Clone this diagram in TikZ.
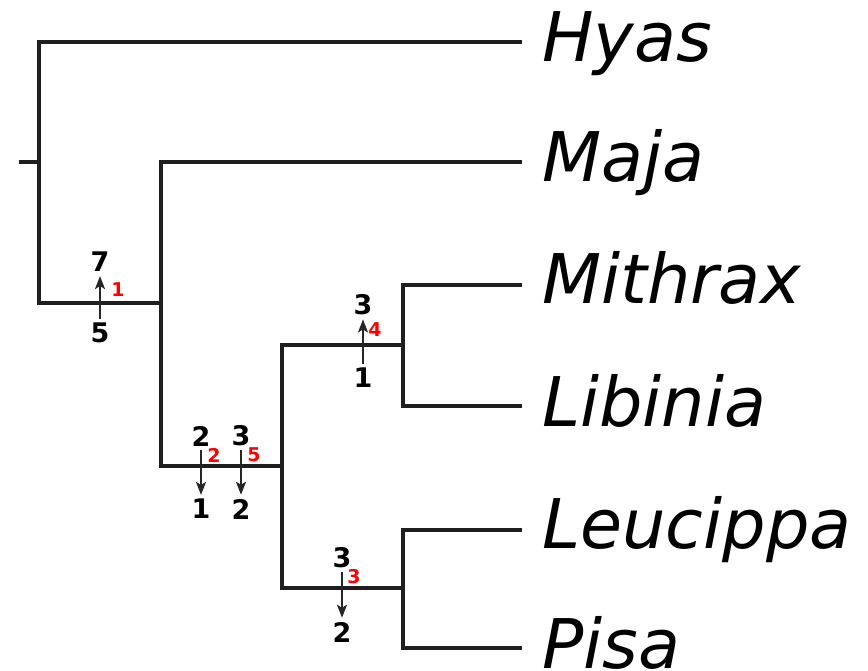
\documentclass[tikz,border=0pt]{standalone}
\usepackage{fontspec}
\setmainfont{DejaVu Sans}[ItalicFont={DejaVu Sans Oblique},BoldFont={DejaVu Sans Bold}]
\usetikzlibrary{arrows.meta}
\begin{document}
\begin{tikzpicture}[x=1pt,y=-1pt,
  branch/.style={line width=3.8pt, draw=black!88, line join=miter},
  taxon/.style={anchor=base west, inner sep=0pt, font=\fontsize{68.5}{68}\selectfont\itshape},
  change/.style={line width=2.2pt, draw=black!85, shorten <=4pt, shorten >=4pt,
    -{Stealth[length=13pt,width=10pt,inset=3pt]}},
  count/.style={inner sep=0pt, font=\fontsize{27}{27}\selectfont\bfseries},
  order/.style={inner sep=0pt, text=red, font=\fontsize{19}{19}\selectfont\bfseries}]
\useasboundingbox (0,0) rectangle (868,671);

% tips of the tree
\coordinate (hyas) at (522,42);
\coordinate (maja) at (522,162);
\coordinate (mithrax) at (522,285);
\coordinate (libinia) at (522,406);
\coordinate (leucippa) at (522,530);
\coordinate (pisa) at (522,648);

% internal nodes
\coordinate (stem) at (19,162);
\coordinate (R) at (39,162);
\coordinate (A) at (161,303);
\coordinate (B) at (282,466);
\coordinate (C) at (403,345);
\coordinate (D) at (403,588);

% branches
\draw[branch] (stem) -- (R);
\draw[branch] (hyas) -| (R) |- (A);
\draw[branch] (maja) -| (A) |- (B);
\draw[branch] (C) -| (B) |- (D);
\draw[branch] (mithrax) -| (C) |- (libinia);
\draw[branch] (leucippa) -| (D) |- (pisa);

% taxon names
\node[taxon] (tHyas) at (542,62) {Hyas};
\node[taxon] (tMaja) at (542,182) {Maja};
\node[taxon] (tMithrax) at (542,304) {Mithrax};
\node[taxon] (tLibinia) at (542,426) {Libinia};
\node[taxon] (tLeucippa) at (542,548) {Leucippa};
\node[taxon] (tPisa) at (542,668) {Pisa};

% character changes on the branches
\node[count] (c1hi) at (100,262) {7};
\node[count] (c1lo) at (100,333) {5};
\node[order] (o1) at (118,290) {1};
\draw[change] (c1lo) -- (c1hi);

\node[count] (c4hi) at (363,305) {3};
\node[count] (c4lo) at (363,378) {1};
\node[order] (o4) at (375,330) {4};
\draw[change] (c4lo) -- (c4hi);

\node[count] (c2hi) at (201,436) {2};
\node[count] (c2lo) at (201,509) {1};
\node[order] (o2) at (214,455) {2};
\draw[change] (c2hi) -- (c2lo);

\node[count] (c5hi) at (241,436) {3};
\node[count] (c5lo) at (241,509) {2};
\node[order] (o5) at (254,455) {5};
\draw[change] (c5hi) -- (c5lo);

\node[count] (c3hi) at (342,558) {3};
\node[count] (c3lo) at (342,632) {2};
\node[order] (o3) at (354,577) {3};
\draw[change] (c3hi) -- (c3lo);
\end{tikzpicture}
\end{document}
